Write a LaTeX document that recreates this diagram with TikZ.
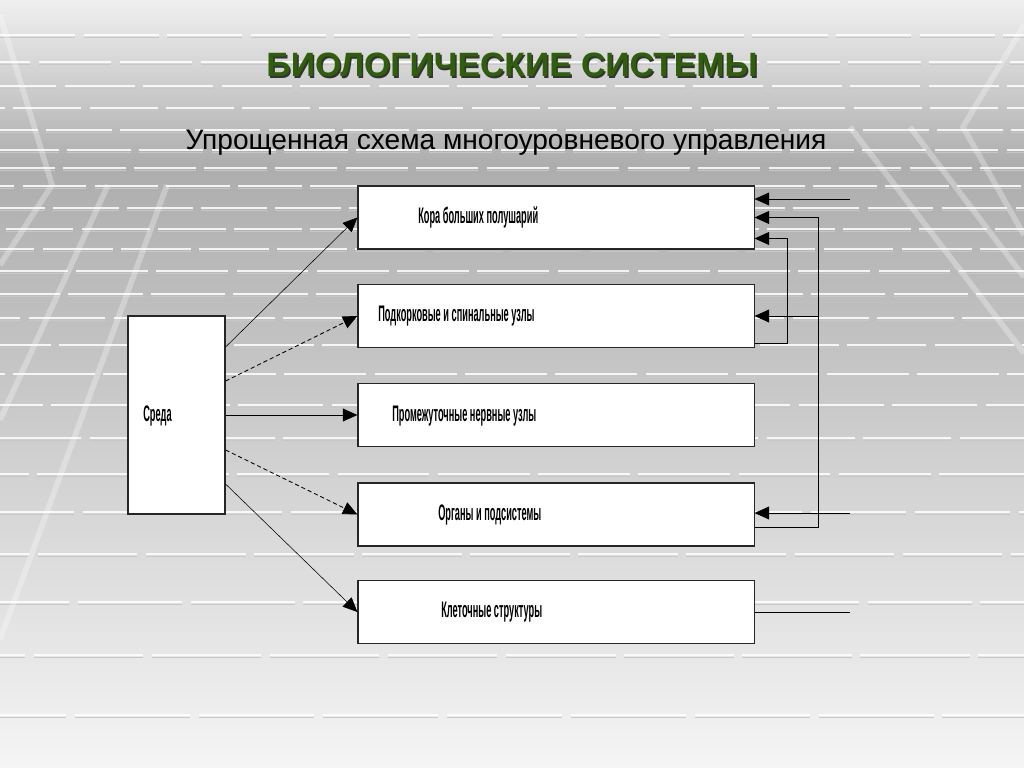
\documentclass[tikz,border=0pt]{standalone}
\usepackage{fontspec}
\setmainfont{Liberation Sans}
\usepackage{graphicx}
\usetikzlibrary{arrows.meta,calc,positioning}

\definecolor{titlegreen}{HTML}{2F5F0A}
\newcommand{\narrowtext}[1]{\scalebox{0.41}[1]{#1}}

\begin{document}
\begin{tikzpicture}[x=0.025cm,y=-0.025cm,
  blk/.style={draw=black!85,line width=0.8pt,fill=white,minimum width=9.9cm,minimum height=1.575cm,inner sep=0pt},
  lbl/.style={anchor=west,inner sep=0pt,font=\fontsize{16}{16}\selectfont\bfseries},
  arr/.style={line width=0.6pt,-{Triangle[length=3.6mm,width=3.2mm]}},
  feed/.style={line width=0.6pt},
  tile/.style={white,line width=2pt}]

  \useasboundingbox (0,0) rectangle (1024,768);

  % background room
  \shade[top color=black!6,bottom color=black!32] (0,0) rectangle (1024,165);
  \shade[top color=black!32,bottom color=black!4] (0,165) rectangle (1024,768);

  \foreach \y/\ph in {35/0,62/30,86/10,108/45,130/20,150/55,168/5,186/35,208/15,229/50,249/25,
                      271/60,294/10,318/40,345/20,374/55,405/30,438/5,474/45,512/15,554/50,602/25,655/60,715/35}
    {
      \pgfmathsetmacro\len{44+abs(\y-170)*0.07}
      \draw[black!22,line width=0.8pt,dash pattern=on \len pt off 6pt,dash phase=\ph pt] (0,\y+2.5) -- (1024,\y+2.5);
      \draw[tile,opacity=0.85,dash pattern=on \len pt off 6pt,dash phase=\ph pt] (0,\y) -- (1024,\y);
    }

  % perspective lines
  \draw[white,opacity=0.3,line width=4pt] (0,15) -- (52,185) -- (0,265);
  \draw[white,opacity=0.3,line width=4pt] (108,185) -- (0,420);
  \draw[white,opacity=0.3,line width=4pt] (167,185) -- (0,640);
  \draw[white,opacity=0.3,line width=4pt] (1024,25) -- (963,127) -- (1024,235);
  \draw[white,opacity=0.3,line width=4pt] (850,127) -- (1024,353);
  \draw[white,opacity=0.3,line width=4pt] (910,127) -- (1024,277);

  % titles
  \node[font=\fontsize{24}{24}\selectfont\bfseries,text=black!80] (tshadow) at (513.5,66.5) {БИОЛОГИЧЕСКИЕ СИСТЕМЫ};
  \node[font=\fontsize{24}{24}\selectfont\bfseries,text=titlegreen] (title) at (512,65) {БИОЛОГИЧЕСКИЕ СИСТЕМЫ};
  \node[font=\fontsize{20}{20}\selectfont] (sub) at (506,143) {Упрощенная схема многоуровневого управления};

  % blocks
  \node[blk,minimum width=2.425cm,minimum height=4.95cm] (env) at (176.5,415) {};
  \node[blk] (b1) at (556,217.5) {};
  \node[blk] (b2) at (556,316) {};
  \node[blk] (b3) at (556,415) {};
  \node[blk] (b4) at (556,514.5) {};
  \node[blk] (b5) at (556,612) {};

  \node[lbl] (t0) at (143,416) {\narrowtext{Среда}};
  \node[lbl] (t1) at (418,217) {\narrowtext{Кора больших полушарий}};
  \node[lbl] (t2) at (378,316) {\narrowtext{Подкорковые и спинальные узлы}};
  \node[lbl] (t3) at (392,416) {\narrowtext{Промежуточные нервные узлы}};
  \node[lbl] (t4) at (438,515) {\narrowtext{Органы и подсистемы}};
  \node[lbl] (t5) at (441,612) {\narrowtext{Клеточные структуры}};

  % environment to levels
  \draw[arr,thin] ($(env.east)+(0,-68)$) -- (b1.west);
  \draw[arr,densely dashed] ($(env.east)+(0,-34)$) -- (b2.west);
  \draw[arr] (env.east) -- (b3.west);
  \draw[arr,densely dashed] ($(env.east)+(0,35)$) -- (b4.west);
  \draw[arr,thin] ($(env.east)+(0,69)$) -- (b5.west);

  % feedback
  \coordinate (in1) at (850,199);
  \coordinate (in4) at (850,513);
  \coordinate (out5) at (850,612);

  \draw[arr] (in1) -- (in1 -| b1.east);
  \draw[arr] ($(b4.south east)+(0,-19)$) -- ++(64,0) coordinate (fb4) |- (b1.east);
  \draw[arr] (fb4 |- b2.east) -- (b2.east);
  \draw[arr] ($(b2.south east)+(0,-5)$) -- ++(33,0) |- ($(b1.east)+(0,21)$);
  \draw[arr] (in4) -- (in4 -| b4.east);
  \draw[feed] (b5.east) -- (out5);

\end{tikzpicture}
\end{document}
